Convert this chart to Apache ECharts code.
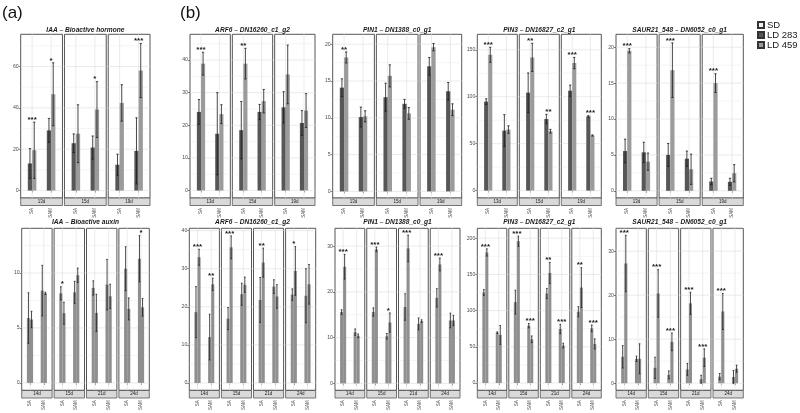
<!DOCTYPE html>
<html><head><meta charset="utf-8">
<script src="https://cdn.jsdelivr.net/npm/echarts@6/dist/echarts.min.js"></script>
<style>html,body{margin:0;padding:0;background:#fff}#c{width:800px;height:413px}</style>
</head><body><div id="c"></div>
<script>
// ---------- data ----------
const xCats = ['SA', 'SAM'];
const daysTop = ['13d', '15d', '19d'];
const daysBottom = ['14d', '15d', '21d', '24d'];
const legendNames = ['SD', 'LD 283', 'LD 459'];

// order of every array: facet1-cat1, facet1-cat2, facet2-cat1, ...
// IAA - Bioactive hormone
const hormoneTicks = [0, 20, 40, 60];
const hormoneLimits = [-3.6, 75.6];
const hormoneM1 = [13.1, 29.1, 22.9, 20.8, 12.5, 19.2];
const hormoneS1 = [7.2, 5.8, 4.5, 5.6, 5.1, 16.0];
const hormoneM2 = [19.5, 46.6, 27.5, 39.2, 42.4, 58.1];
const hormoneS2 = [13.6, 15.2, 14.0, 13.5, 8.8, 13.1];
const hormoneSig = ['***', '*', '', '*', '', '***'];

// IAA - Bioactive auxin
const auxinTicks = [0, 5, 10];
const auxinLimits = [-0.67, 14.07];
const auxinM1 = [5.9, 8.4, 8.15, 8.24, 8.64, 8.94, 10.39, 11.3];
const auxinS1 = [2.3, 2.3, 0.6, 1.0, 0.65, 2.3, 2.0, 2.1];
const auxinM2 = [5.77, 8.15, 6.34, 9.8, 6.37, 7.88, 6.73, 6.88];
const auxinS2 = [0.75, 0.1, 1.0, 0.65, 1.7, 1.1, 1.0, 0.8];
const auxinSig = ['', '', '*', '', '', '', '', '*'];

// ARF6 - DN16260_c1_g2 (top)
const arf6TopTicks = [0, 10, 20, 30, 40];
const arf6TopLimits = [-2.3, 47.9];
const arf6TopM1 = [24.1, 17.4, 18.5, 24.1, 25.5, 20.7];
const arf6TopS1 = [3.8, 12.6, 8.8, 2.3, 4.8, 3.8];
const arf6TopM2 = [38.9, 23.4, 38.9, 27.4, 35.6, 24.5];
const arf6TopS2 = [3.5, 2.9, 4.7, 3.6, 9.0, 5.2];
const arf6TopSig = ['***', '', '**', '', '', ''];

// ARF6 - DN16260_c1_g2 (bottom)
const arf6BotTicks = [0, 10, 20, 30, 40];
const arf6BotLimits = [-1.9, 40.6];
const arf6BotM1 = [18.6, 12.05, 16.9, 23.3, 21.8, 25.3, 23.2, 22.9];
const arf6BotS1 = [6.7, 6.0, 2.9, 2.9, 5.9, 1.8, 1.5, 7.1];
const arf6BotM2 = [33.0, 25.9, 35.6, 25.8, 31.6, 22.7, 29.4, 25.9];
const arf6BotS2 = [2.1, 1.6, 3.0, 2.0, 3.8, 3.1, 6.4, 5.2];
const arf6BotSig = ['***', '**', '***', '', '**', '', '*', ''];

// PIN1 - DN1388_c0_g1 (top)
const pin1TopTicks = [0, 5, 10, 15, 20];
const pin1TopLimits = [-0.9, 21.35];
const pin1TopM1 = [14.1, 10.1, 12.8, 11.9, 17.0, 13.6];
const pin1TopS1 = [1.2, 1.35, 1.9, 0.6, 1.2, 1.2];
const pin1TopM2 = [18.2, 10.2, 15.7, 10.6, 19.6, 11.1];
const pin1TopS2 = [0.75, 0.75, 1.5, 0.8, 0.5, 0.8];
const pin1TopSig = ['**', '', '', '', '', ''];

// PIN1 - DN1388_c0_g1 (bottom)
const pin1BotTicks = [0, 10, 20, 30];
const pin1BotLimits = [-1.5, 33.9];
const pin1BotM1 = [15.6, 11.2, 15.6, 10.3, 16.7, 13.0, 18.7, 13.75];
const pin1BotS1 = [0.5, 0.7, 0.9, 0.6, 2.9, 1.3, 2.0, 1.6];
const pin1BotM2 = [25.5, 10.4, 29.3, 13.3, 29.5, 13.6, 26.0, 13.75];
const pin1BotS2 = [2.7, 0.4, 0.5, 2.1, 2.9, 0.3, 1.4, 1.1];
const pin1BotSig = ['***', '', '***', '*', '***', '', '***', ''];

// PIN3 - DN16827_c2_g1 (top)
const pin3TopTicks = [0, 50, 100, 150];
const pin3TopLimits = [-7.9, 166.5];
const pin3TopM1 = [94.8, 63.9, 104.3, 76.2, 106.4, 79.0];
const pin3TopS1 = [3, 17, 21, 5, 6, 0.8];
const pin3TopM2 = [144.7, 65.0, 141.9, 63.2, 135.9, 58.7];
const pin3TopS2 = [8, 4, 15, 2, 6, 0.6];
const pin3TopSig = ['***', '', '**', '**', '***', '***'];

// PIN3 - DN16827_c2_g1 (bottom)
const pin3BotTicks = [0, 50, 100, 150, 200];
const pin3BotLimits = [-10, 213.7];
const pin3BotM1 = [125, 69.6, 111.7, 79.2, 123.6, 74.6, 98.4, 75.5];
const pin3BotS1 = [4, 1, 16.5, 3, 7, 6.4, 7, 4.6];
const pin3BotM2 = [180.3, 66.4, 195.9, 60.4, 152, 51.7, 131.8, 54];
const pin3BotS2 = [5, 13, 7, 4.6, 14.6, 3.2, 27.5, 7];
const pin3BotSig = ['***', '', '***', '***', '**', '***', '**', '***'];

// SAUR21_548 - DN6052_c0_g1 (top)
const saurTopTicks = [0, 5, 10, 15, 20];
const saurTopLimits = [-1.0, 21.8];
const saurTopM1 = [5.54, 5.36, 5.0, 4.48, 1.3, 1.25];
const saurTopS1 = [1.65, 1.4, 1.6, 1.05, 0.45, 0.5];
const saurTopM2 = [19.5, 4.06, 16.8, 3.0, 15.0, 2.45];
const saurTopS2 = [0.3, 1.2, 3.8, 2.1, 1.3, 1.2];
const saurTopSig = ['***', '', '***', '', '***', ''];

// SAUR21_548 - DN6052_c0_g1 (bottom)
const saurBotTicks = [0, 10, 20, 30];
const saurBotLimits = [-1.6, 35.2];
const saurBotM1 = [6.0, 5.55, 3.5, 1.9, 3.15, 0.9, 1.5, 1.4];
const saurBotS1 = [2.55, 0.6, 2.4, 0.9, 1.35, 0.9, 0.7, 1.5];
const saurBotM2 = [27.2, 5.55, 20.4, 9.4, 18.15, 5.8, 16.3, 3.3];
const saurBotS2 = [6.4, 3.4, 5.4, 2.0, 2.5, 2.0, 4.1, 0.8];
const saurBotSig = ['***', '', '***', '***', '***', '***', '***', ''];

// ---------- layout / style ----------
const FONT = 'Liberation Sans, Arial, sans-serif';
const rows = [
  {top: 34.3, bottom: 198, titleY: 30, days: daysTop, colors: ['#575757', '#9b9b9b']},
  {top: 228.3, bottom: 390.5, titleY: 222.5, days: daysBottom, colors: ['#8f8f8f', '#8f8f8f']}
];
const STRIP_H = 7.5, GAP = 2;

const charts = [
  {title: 'IAA \u2013 Bioactive hormone', row: 0, x0: 20.7, x1: 150, ticks: hormoneTicks, lim: hormoneLimits, m1: hormoneM1, s1: hormoneS1, m2: hormoneM2, s2: hormoneS2, sig: hormoneSig},
  {title: 'ARF6 \u2013 DN16260_c1_g2', row: 0, x0: 190, x1: 315, ticks: arf6TopTicks, lim: arf6TopLimits, m1: arf6TopM1, s1: arf6TopS1, m2: arf6TopM2, s2: arf6TopS2, sig: arf6TopSig},
  {title: 'PIN1 \u2013 DN1388_c0_g1', row: 0, x0: 332.7, x1: 461.7, ticks: pin1TopTicks, lim: pin1TopLimits, m1: pin1TopM1, s1: pin1TopS1, m2: pin1TopM2, s2: pin1TopS2, sig: pin1TopSig},
  {title: 'PIN3 \u2013 DN16827_c2_g1', row: 0, x0: 477.3, x1: 601.3, ticks: pin3TopTicks, lim: pin3TopLimits, m1: pin3TopM1, s1: pin3TopS1, m2: pin3TopM2, s2: pin3TopS2, sig: pin3TopSig},
  {title: 'SAUR21_548 \u2013 DN6052_c0_g1', row: 0, x0: 616, x1: 743.3, ticks: saurTopTicks, lim: saurTopLimits, m1: saurTopM1, s1: saurTopS1, m2: saurTopM2, s2: saurTopS2, sig: saurTopSig},
  {title: 'IAA \u2013 Bioactive auxin', row: 1, x0: 21.7, x1: 149.3, ticks: auxinTicks, lim: auxinLimits, m1: auxinM1, s1: auxinS1, m2: auxinM2, s2: auxinS2, sig: auxinSig},
  {title: 'ARF6 \u2013 DN16260_c1_g2', row: 1, x0: 189.3, x1: 315.7, ticks: arf6BotTicks, lim: arf6BotLimits, m1: arf6BotM1, s1: arf6BotS1, m2: arf6BotM2, s2: arf6BotS2, sig: arf6BotSig},
  {title: 'PIN1 \u2013 DN1388_c0_g1', row: 1, x0: 335, x1: 460, ticks: pin1BotTicks, lim: pin1BotLimits, m1: pin1BotM1, s1: pin1BotS1, m2: pin1BotM2, s2: pin1BotS2, sig: pin1BotSig},
  {title: 'PIN3 \u2013 DN16827_c2_g1', row: 1, x0: 477.3, x1: 601.3, ticks: pin3BotTicks, lim: pin3BotLimits, m1: pin3BotM1, s1: pin3BotS1, m2: pin3BotM2, s2: pin3BotS2, sig: pin3BotSig},
  {title: 'SAUR21_548 \u2013 DN6052_c0_g1', row: 1, x0: 616, x1: 743.3, ticks: saurBotTicks, lim: saurBotLimits, m1: saurBotM1, s1: saurBotS1, m2: saurBotM2, s2: saurBotS2, sig: saurBotSig}
];

const grids = [], xAxes = [], yAxes = [], series = [], graphics = [];
const HALF = 0.225;

function gridLineRender(params, api) {
  const cs = params.coordSys;
  const kind = api.value(0), v = api.value(1), major = api.value(2);
  const style = {stroke: '#e3e3e3', lineWidth: major ? 0.7 : 0.35};
  if (kind === 0) {
    const y = api.coord([1, v])[1];
    return {type: 'line', shape: {x1: cs.x, y1: y, x2: cs.x + cs.width, y2: y}, style};
  }
  const x = api.coord([v, 0])[0];
  return {type: 'line', shape: {x1: x, y1: cs.y, x2: x, y2: cs.y + cs.height}, style};
}

function makeBarRender(colors) {
  return function (params, api) {
    const x = api.value(0), m = api.value(1), s = api.value(2), g = api.value(3);
    const xl = x - HALF + g * HALF, xr = xl + HALF, xc = xl + HALF / 2;
    const p0 = api.coord([xl, m]), p1 = api.coord([xr, 0]);
    const top = api.coord([xc, m + s]), bot = api.coord([xc, m - s]);
    const cl = api.coord([xc - 0.06, 0])[0], cr = api.coord([xc + 0.06, 0])[0];
    const es = {stroke: '#1a1a1a', lineWidth: 0.8};
    return {type: 'group', children: [
      {type: 'rect', shape: {x: p0[0], y: p0[1], width: p1[0] - p0[0], height: p1[1] - p0[1]}, style: {fill: colors[g]}},
      {type: 'line', shape: {x1: top[0], y1: top[1], x2: bot[0], y2: bot[1]}, style: es},
      {type: 'line', shape: {x1: cl, y1: top[1], x2: cr, y2: top[1]}, style: es},
      {type: 'line', shape: {x1: cl, y1: bot[1], x2: cr, y2: bot[1]}, style: es}
    ]};
  };
}

function makeStarRender(labels) {
  return function (params, api) {
    const t = labels[params.dataIndex];
    if (!t) return null;
    const p = api.coord([api.value(0), api.value(1)]);
    return {type: 'text', x: p[0], y: p[1] + 1.5, style: {text: t, textAlign: 'center', textVerticalAlign: 'bottom', font: 'bold 8px ' + FONT, fill: '#1a1a1a'}};
  };
}

charts.forEach(function (c) {
  const row = rows[c.row];
  const n = row.days.length;
  const fw = (c.x1 - c.x0 - GAP * (n - 1)) / n;
  const h = row.bottom - row.top;
  const step = c.ticks[1] - c.ticks[0];
  const minors = [];
  c.ticks.forEach(function (t) { if (t + step / 2 <= c.lim[1]) minors.push(t + step / 2); });
  graphics.push({type: 'text', x: (c.x0 + c.x1) / 2, y: row.titleY, style: {text: c.title, textAlign: 'center', textVerticalAlign: 'middle', font: 'italic bold 6.6px ' + FONT, fill: '#1a1a1a'}});
  for (let f = 0; f < n; f++) {
    const gi = grids.length;
    const left = c.x0 + f * (fw + GAP);
    grids.push({left: left, top: row.top, width: fw, height: h, show: true, backgroundColor: '#ffffff', borderColor: '#555555', borderWidth: 1, containLabel: false});
    xAxes.push({gridIndex: gi, type: 'value', min: 0.4, max: 2.6, offset: STRIP_H + 0.5,
      axisLine: {show: false}, splitLine: {show: false},
      axisTick: {show: true, customValues: [1, 2], length: 2, lineStyle: {color: '#333', width: 0.6}},
      axisLabel: {show: true, customValues: [1, 2], rotate: 90, fontSize: 4.5, color: '#4d4d4d', margin: 2, fontFamily: FONT, formatter: function (v) { return xCats[Math.round(v) - 1]; }}});
    yAxes.push({gridIndex: gi, type: 'value', min: c.lim[0], max: c.lim[1],
      axisLine: {show: false}, splitLine: {show: false},
      axisTick: {show: f === 0, customValues: c.ticks, length: 2, lineStyle: {color: '#333', width: 0.6}},
      axisLabel: {show: f === 0, customValues: c.ticks, fontSize: 5.2, color: '#4d4d4d', margin: 2, fontFamily: FONT}});
    // grid lines
    const gl = [];
    c.ticks.forEach(function (t) { gl.push([0, t, 1]); });
    minors.forEach(function (t) { gl.push([0, t, 0]); });
    gl.push([1, 1, 1]); gl.push([1, 2, 1]);
    series.push({type: 'custom', xAxisIndex: gi, yAxisIndex: gi, z: 1, silent: true, renderItem: gridLineRender, data: gl});
    // bars + error bars
    const bars = [], stars = [], sl = [];
    for (let k = 0; k < 2; k++) {
      const idx = f * 2 + k;
      bars.push([k + 1, c.m1[idx], c.s1[idx], 0]);
      bars.push([k + 1, c.m2[idx], c.s2[idx], 1]);
      stars.push([k + 1, Math.max(c.m1[idx] + c.s1[idx], c.m2[idx] + c.s2[idx])]);
      sl.push(c.sig[idx]);
    }
    series.push({type: 'custom', xAxisIndex: gi, yAxisIndex: gi, z: 3, silent: true, renderItem: makeBarRender(row.colors), data: bars});
    series.push({type: 'custom', xAxisIndex: gi, yAxisIndex: gi, z: 4, silent: true, renderItem: makeStarRender(sl), data: stars});
    // strip
    graphics.push({type: 'rect', shape: {x: left, y: row.bottom, width: fw, height: STRIP_H}, style: {fill: '#d9d9d9', stroke: '#555555', lineWidth: 0.8}});
    graphics.push({type: 'text', x: left + fw / 2, y: row.bottom + STRIP_H / 2, style: {text: row.days[f], textAlign: 'center', textVerticalAlign: 'middle', font: '4.5px ' + FONT, fill: '#1a1a1a'}});
  }
});

// legend dummy series
const legendColors = ['#f2f2f2', '#575757', '#9b9b9b'];
legendNames.forEach(function (nm, i) {
  series.push({type: 'bar', name: nm, xAxisIndex: 0, yAxisIndex: 0, data: [], itemStyle: {color: legendColors[i], borderColor: '#333', borderWidth: 0.6}});
});

graphics.push({type: 'text', x: 2, y: 13, style: {text: '(a)', textVerticalAlign: 'middle', font: '17px ' + FONT, fill: '#111'}});
graphics.push({type: 'text', x: 180, y: 13, style: {text: '(b)', textVerticalAlign: 'middle', font: '17px ' + FONT, fill: '#111'}});

const chart = echarts.init(document.getElementById('c'), null, {renderer: 'canvas'});
chart.setOption({
  animation: false,
  backgroundColor: '#ffffff',
  grid: grids, xAxis: xAxes, yAxis: yAxes, series: series,
  legend: {data: legendNames.map(function (n) { return {name: n, icon: 'rect'}; }), orient: 'vertical', left: 757, top: 20, itemWidth: 6, itemHeight: 6, itemGap: 0,
    textStyle: {fontSize: 9.5, color: '#1a1a1a', fontFamily: FONT, lineHeight: 9, padding: [0, 0, 0, -2]}, selectedMode: false, padding: 0},
  graphic: {elements: graphics}
});
</script></body></html>
